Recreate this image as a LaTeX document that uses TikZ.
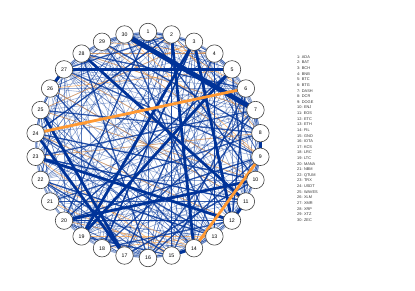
\documentclass[tikz,border=0pt]{standalone}
\usepackage{fontspec}
\setmainfont{Liberation Sans}
\usetikzlibrary{backgrounds}
\definecolor{eblue}{HTML}{003399}
\definecolor{eorange}{HTML}{FF9933}
\begin{document}
\begin{tikzpicture}[x=1pt,y=-1pt,
  vx/.style={circle,draw=black!75,line width=0.6pt,fill=white,minimum size=17.5pt,inner sep=0pt,font=\fontsize{5.2}{6}\selectfont},
  leg/.style={anchor=west,inner sep=0pt,font=\fontsize{3.9}{4.5}\selectfont,text=black!80},
  thinb/.style={draw=eblue,line width=0.55pt,opacity=0.42},
  medb/.style={draw=eblue,line width=1.3pt,opacity=0.8},
  thickb/.style={draw=eblue,line width=2.8pt},
  hugeb/.style={draw=eblue,line width=5pt},
  thino/.style={draw=eorange,line width=0.7pt,opacity=0.6},
  thicko/.style={draw=eorange,line width=2.8pt}]
\useasboundingbox (0,0) rectangle (415,291);
\foreach \k in {1,...,30}{
  \pgfmathsetmacro\ang{90-12*(\k-1)}
  \node[vx] (n\k) at ({148+113*cos(\ang)},{145-113*sin(\ang)}) {\k};
}
\foreach \t [count=\i] in {ADA,BAT,BCH,BNB,BTC,BTG,DASH,DCR,DOGE,ENJ,EOS,ETC,ETH,FIL,GNO,IOTA,KCS,LRC,LTC,MANA,NBM,QTUM,TRX,USDT,WAVES,XLM,XMR,XRP,XTZ,ZEC}{
  \node[leg] (l\i) at (297,{57+5.62*(\i-1)}) {\i: \t};
}
\begin{scope}[on background layer]
  \pgfmathsetseed{7}
  \foreach \i in {1,...,280}{
    \pgfmathrandominteger{\a}{1}{30}
    \pgfmathrandominteger{\b}{1}{30}
    \draw[thinb] (n\a.center) -- (n\b.center);
  }
  \foreach \i in {1,...,30}{
    \pgfmathtruncatemacro\j{mod(\i,30)+1}
    \pgfmathtruncatemacro\m{mod(\i+1,30)+1}
    \draw[thinb,line width=1.2pt] (n\i.center) -- (n\j.center);
    \draw[thinb] (n\i.center) -- (n\m.center);
  }
  \foreach \a/\b in {29/9,25/10,24/12,28/7,22/14,23/8,19/13,26/5,1/6,29/4,21/15,20/14,27/10,25/3,18/13,30/9,26/11,23/15,2/8,28/4}{
    \draw[thino] (n\a.center) -- (n\b.center);
  }
  \foreach \a/\b in {22/13,23/11,24/10,21/8,20/9,18/7,17/4,16/28,19/15,29/12,1/20,2/24,3/18,6/15,7/16,27/9,26/14,30/13,1/10,5/20,12/18,13/24,29/8,22/15,21/11,4/13,5/11,6/12,28/6,27/2,25/8,20/12,18/3,15/2,16/9,23/7,10/17}{
    \draw[medb] (n\a.center) -- (n\b.center);
  }
  \foreach \a/\b in {27/5,28/11,25/17,24/17,19/3,19/5,23/12,20/10,2/14,3/12,26/27,8/9,14/15,11/12}{
    \draw[thickb] (n\a.center) -- (n\b.center);
  }
  \draw[hugeb] (n30.center) -- (n7.center);
  \draw[thicko] (n24.center) -- (n6.center);
  \draw[thicko] (n9.center) -- (n14.center);
\end{scope}
\end{tikzpicture}
\end{document}
